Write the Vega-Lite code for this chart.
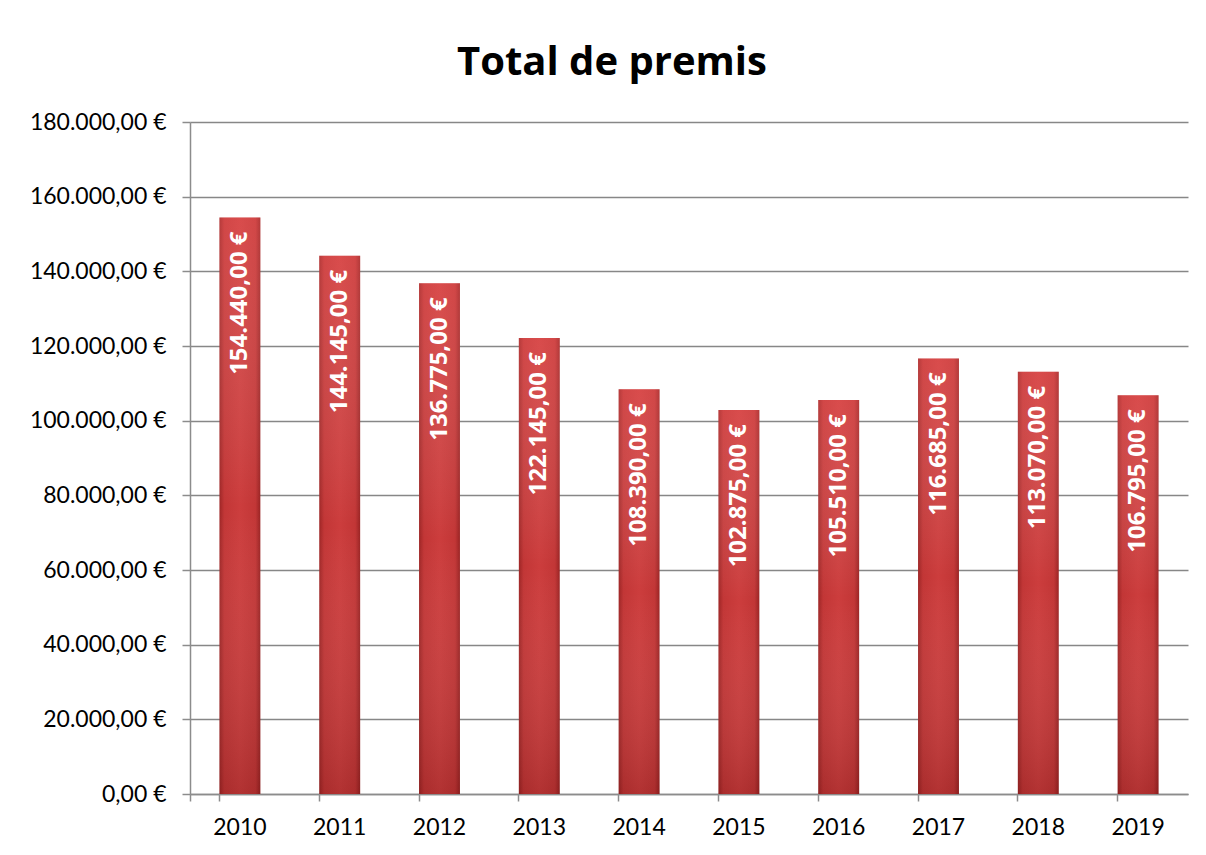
{
  "$schema": "https://vega.github.io/schema/vega-lite/v6.json",
  "width": 998,
  "height": 672,
  "autosize": "none",
  "padding": {"left": 190, "top": 122, "right": 18, "bottom": 61},
  "background": "white",
  "config": {
    "locale": {"number": {"decimal": ",", "thousands": ".", "grouping": [3], "currency": ["", " €"]}},
    "view": {"stroke": null},
    "font": "Lato"
  },
  "title": {
    "text": "Total de premis",
    "font": "Open Sans",
    "fontSize": 40,
    "fontWeight": "bold",
    "color": "black",
    "anchor": "middle",
    "dx": -77,
    "offset": 28
  },
  "data": {
    "values": [
      {"year": "2010", "total": 154440},
      {"year": "2011", "total": 144145},
      {"year": "2012", "total": 136775},
      {"year": "2013", "total": 122145},
      {"year": "2014", "total": 108390},
      {"year": "2015", "total": 102875},
      {"year": "2016", "total": 105510},
      {"year": "2017", "total": 116685},
      {"year": "2018", "total": 113070},
      {"year": "2019", "total": 106795}
    ]
  },
  "encoding": {
    "x": {
      "field": "year", "type": "nominal", "title": null,
      "scale": {"paddingInner": 0.59, "paddingOuter": 0.295},
      "axis": {
        "labelAngle": 0, "labelFontSize": 23, "labelColor": "black", "labelPadding": 15,
        "domainColor": "#8c8c8c", "domainWidth": 1.5,
        "tickColor": "#8c8c8c", "tickWidth": 1.5, "tickSize": 7,
        "bandPosition": 0, "tickExtra": true
      }
    },
    "y": {
      "field": "total", "type": "quantitative", "title": null,
      "scale": {"domain": [0, 180000]},
      "axis": {
        "values": [0, 20000, 40000, 60000, 80000, 100000, 120000, 140000, 160000, 180000],
        "format": "$,.2f",
        "labelFontSize": 23, "labelColor": "black", "labelPadding": 16,
        "domainColor": "#8c8c8c", "domainWidth": 1.5,
        "tickColor": "#8c8c8c", "tickWidth": 1.5, "tickSize": 8,
        "grid": true, "gridColor": "#878787", "gridWidth": 1.6
      }
    }
  },
  "layer": [
    {
      "mark": {
        "type": "bar",
        "color": {
          "gradient": "linear", "x1": 0, "x2": 1, "y1": 0, "y2": 0,
          "stops": [
            {"offset": 0, "color": "#9e2626"},
            {"offset": 0.12, "color": "#c23636"},
            {"offset": 0.5, "color": "#cc3d3d"},
            {"offset": 0.88, "color": "#c23636"},
            {"offset": 1, "color": "#9a2424"}
          ]
        }
      }
    },
    {
      "mark": {
        "type": "bar",
        "color": {
          "gradient": "linear", "x1": 0, "x2": 0, "y1": 0, "y2": 1,
          "stops": [
            {"offset": 0, "color": "rgba(255,120,120,0.25)"},
            {"offset": 0.5, "color": "rgba(255,255,255,0)"},
            {"offset": 1, "color": "rgba(60,0,0,0.18)"}
          ]
        }
      }
    },
    {
      "mark": {
        "type": "text", "angle": 270, "align": "right", "baseline": "middle",
        "dx": -14, "color": "white", "fontSize": 24, "fontWeight": "bold", "font": "Open Sans"
      },
      "encoding": {
        "text": {"field": "total", "type": "quantitative", "format": "$,.2f"}
      }
    }
  ]
}
